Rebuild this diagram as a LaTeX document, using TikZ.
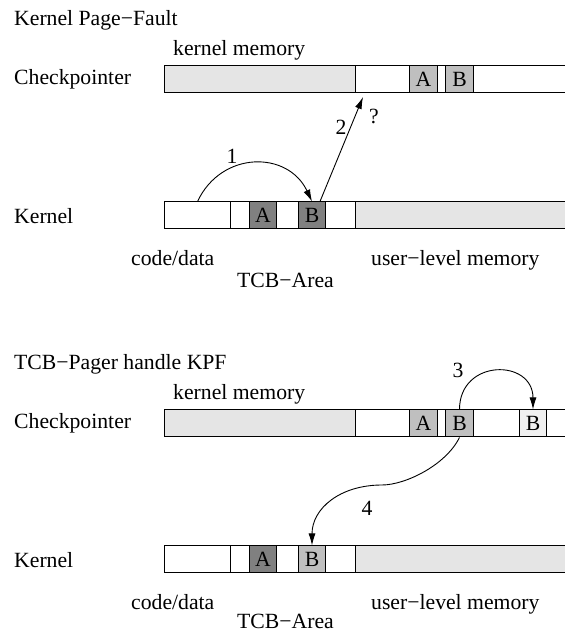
\documentclass[tikz,border=0pt]{standalone}
\usepackage{fontspec}
\setmainfont{Liberation Serif}
\usetikzlibrary{arrows.meta}

\definecolor{kmemgray}{HTML}{E5E5E5}
\definecolor{pagegray}{HTML}{BFBFBF}
\definecolor{darkpage}{HTML}{808080}
\definecolor{freshpage}{HTML}{F0F0F0}

\begin{document}
\begin{tikzpicture}[
    x=1pt, y=1pt,
    every node/.style={font=\fontsize{21.7}{26}\selectfont},
    cell/.style={draw=black, line width=1pt, minimum height=27pt, inner sep=0pt, anchor=west},
    lbl/.style={anchor=base west, inner sep=0pt},
    step edge/.style={line width=0.9pt, -{Latex[length=12pt,width=7pt]}}
]
\clip (0,0) rectangle (565,635);

% Kernel Page-Fault
\node[lbl] (title1) at (14,609) {Kernel Page−Fault};
\node[lbl] (kmemlbl1) at (173,579) {kernel memory};
\node[lbl] (cplbl1) at (14,550) {Checkpointer};
\node[cell, fill=kmemgray, minimum width=191pt] (ckm1) at (164,555.5) {};
\node[cell, minimum width=215pt] (cfree1) at (355,555.5) {};
\node[cell, fill=pagegray, minimum width=28pt] (cA1) at (409,555.5) {A};
\node[cell, fill=pagegray, minimum width=28pt] (cB1) at (445,555.5) {B};

\node[lbl] (klbl1) at (14,411) {Kernel};
\node[cell, minimum width=66pt] (kcode1) at (164,419.5) {};
\node[cell, minimum width=125pt] (ktcb1) at (230,419.5) {};
\node[cell, fill=kmemgray, minimum width=215pt] (kuser1) at (355,419.5) {};
\node[cell, fill=darkpage, minimum width=27pt] (kA1) at (249,419.5) {A};
\node[cell, fill=darkpage, minimum width=27pt] (kB1) at (298,419.5) {B};
\node[lbl] (codelbl1) at (131,369) {code/data};
\node[lbl] (tcblbl1) at (237,347) {TCB−Area};
\node[lbl] (userlbl1) at (371,369) {user−level memory};

\draw[step edge] (kcode1.north) .. controls +(24,51) and +(-24,51) .. (kB1.north);
\node (n1) at (232,479) {1};
\coordinate (miss1) at (363,538);
\draw[step edge] ([xshift=8pt]kB1.north) -- (miss1);
\node (n2) at (341,508) {2};
\node (qm) at (374,519) {?};

% TCB-Pager handle KPF
\begin{scope}[yshift=-344pt]
\node[lbl] (title2) at (14,609) {TCB−Pager handle KPF};
\node[lbl] (kmemlbl2) at (173,579) {kernel memory};
\node[lbl] (cplbl2) at (14,550) {Checkpointer};
\node[cell, fill=kmemgray, minimum width=191pt] (ckm2) at (164,555.5) {};
\node[cell, minimum width=215pt] (cfree2) at (355,555.5) {};
\node[cell, fill=pagegray, minimum width=28pt] (cA2) at (409,555.5) {A};
\node[cell, fill=pagegray, minimum width=28pt] (cB2) at (445,555.5) {B};
\node[cell, fill=freshpage, minimum width=27pt] (cB3) at (519,555.5) {B};

\node[lbl] (klbl2) at (14,411) {Kernel};
\node[cell, minimum width=66pt] (kcode2) at (164,419.5) {};
\node[cell, minimum width=125pt] (ktcb2) at (230,419.5) {};
\node[cell, fill=kmemgray, minimum width=215pt] (kuser2) at (355,419.5) {};
\node[cell, fill=darkpage, minimum width=27pt] (kA2) at (249,419.5) {A};
\node[cell, fill=pagegray, minimum width=27pt] (kB2) at (298,419.5) {B};
\node[lbl] (codelbl2) at (131,369) {code/data};
\node[lbl] (tcblbl2) at (237,350) {TCB−Area};
\node[lbl] (userlbl2) at (371,369) {user−level memory};

\draw[step edge] (cB2.north) .. controls +(0,51) and +(0,51) .. (cB3.north);
\node (n3) at (458,609) {3};
\coordinate (bend4) at (382,494);
\draw[step edge] (cB2.south) .. controls +(-14,-28) and +(23,0) .. (bend4)
    .. controls +(-42,0) and +(0,37) .. (kB2.north);
\node (n4) at (367,471) {4};
\end{scope}

\end{tikzpicture}
\end{document}
